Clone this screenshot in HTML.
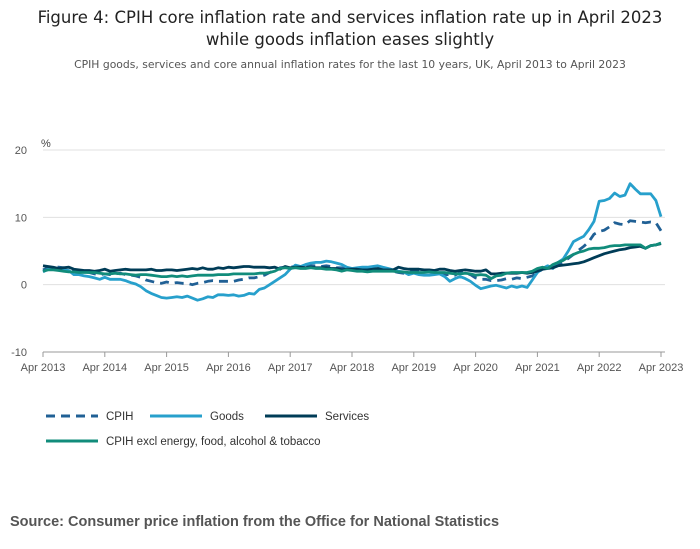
<!DOCTYPE html>
<html><head><meta charset="utf-8"><style>
body{margin:0;background:#fff;font-family:"Liberation Sans",sans-serif;}
#wrap{position:relative;width:700px;height:549px;overflow:hidden}
</style></head><body>
<div id="wrap">
<svg id="chart" width="700" height="549" xmlns="http://www.w3.org/2000/svg">
<text x="350" y="23" text-anchor="middle" font-size="16.5" fill="#222" font-family="DejaVu Sans, sans-serif">Figure 4: CPIH core inflation rate and services inflation rate up in April 2023</text>
<text x="350" y="45" text-anchor="middle" font-size="16.5" fill="#222" font-family="DejaVu Sans, sans-serif">while goods inflation eases slightly</text>
<text x="350" y="68" text-anchor="middle" font-size="10.8" fill="#555" font-family="DejaVu Sans, sans-serif">CPIH goods, services and core annual inflation rates for the last 10 years, UK, April 2013 to April 2023</text>
<text x="41" y="147" font-size="11" fill="#444">%</text>
<g id="grid"></g><g id="lines"></g><g id="xaxis"></g>
<g>
<g><line x1="46" y1="416" x2="98" y2="416" stroke="#206095" stroke-width="3" stroke-dasharray="9,6"/><text x="106" y="420" font-size="11.5" fill="#333">CPIH</text></g>
<g><line x1="150" y1="416" x2="202" y2="416" stroke="#27a0cc" stroke-width="3"/><text x="210" y="420" font-size="11.5" fill="#333">Goods</text></g>
<g><line x1="265" y1="416" x2="317" y2="416" stroke="#003c57" stroke-width="3"/><text x="325" y="420" font-size="11.5" fill="#333">Services</text></g>
<g><line x1="46" y1="441" x2="98" y2="441" stroke="#118c7b" stroke-width="3"/><text x="106" y="445" font-size="11.5" fill="#333">CPIH excl energy, food, alcohol &amp; tobacco</text></g>
</g>
<text x="10" y="526" font-size="14.5" font-weight="bold" fill="#555">Source: Consumer price inflation from the Office for National Statistics</text>
</svg>
</div>
<script>
const yTicks=[20,10,0,-10];
const xTickLabels=["Apr 2013","Apr 2014","Apr 2015","Apr 2016","Apr 2017","Apr 2018","Apr 2019","Apr 2020","Apr 2021","Apr 2022","Apr 2023"];
const cpih=[2.2,2.5,2.6,2.6,2.5,2.4,2.1,2.0,1.9,
1.8,1.6,1.5,1.6,1.5,1.6,1.7,1.5,1.4,1.3,1.1,0.7,
0.5,0.3,0.2,0.4,0.2,0.3,0.2,0.2,0.0,0.2,0.3,0.5,
0.6,0.5,0.5,0.5,0.5,0.7,0.8,1.0,1.0,1.2,1.4,1.8,
2.1,2.5,2.6,2.7,2.6,2.6,2.7,2.8,2.8,2.7,2.8,2.7,
2.5,2.5,2.3,2.2,2.3,2.3,2.3,2.4,2.2,2.2,2.2,2.0,
1.8,1.7,1.8,2.0,1.9,1.9,1.9,1.7,1.7,1.5,1.5,1.4,
1.8,1.7,1.5,1.0,0.8,0.8,0.6,0.6,0.7,0.9,0.8,1.0,
0.9,1.1,1.3,1.8,2.3,2.7,2.8,3.0,3.4,3.9,4.5,5.1,
5.7,6.4,7.5,7.9,8.1,8.6,9.2,9.0,8.9,9.5,9.4,9.3,
9.2,9.3,9.2,8.0];
const goods=[1.9,2.3,2.4,2.4,2.2,2.1,1.5,1.5,1.3,
1.2,1.0,0.8,1.1,0.8,0.8,0.8,0.6,0.3,0.1,-0.3,-0.9,
-1.3,-1.6,-1.9,-2.0,-1.9,-1.8,-1.9,-1.7,-2.0,-2.3,-2.1,-1.8,
-1.9,-1.5,-1.5,-1.6,-1.5,-1.7,-1.6,-1.3,-1.4,-0.7,-0.5,0.0,
0.5,1.0,1.5,2.3,2.9,2.7,3.0,3.2,3.3,3.3,3.5,3.4,
3.2,3.0,2.6,2.4,2.5,2.6,2.6,2.7,2.8,2.6,2.4,2.2,
2.0,1.9,1.5,1.7,1.5,1.4,1.4,1.5,1.6,1.2,0.5,0.9,
1.2,0.9,0.5,-0.1,-0.6,-0.4,-0.2,-0.1,-0.3,-0.5,-0.2,-0.4,
-0.2,-0.4,0.7,1.8,2.4,2.8,2.4,3.3,3.8,5.0,6.4,6.8,
7.2,8.2,9.4,12.4,12.5,12.8,13.6,13.1,13.3,15.0,14.2,13.5,
13.5,13.5,12.5,10.1];
const services=[2.8,2.7,2.6,2.4,2.5,2.6,2.3,2.2,2.1,
2.1,2.0,2.1,2.3,2.0,2.1,2.2,2.3,2.2,2.2,2.2,2.2,
2.3,2.1,2.1,2.2,2.2,2.1,2.2,2.3,2.4,2.3,2.5,2.3,
2.3,2.5,2.4,2.6,2.5,2.6,2.7,2.7,2.6,2.6,2.6,2.5,
2.6,2.3,2.7,2.5,2.6,2.6,2.5,2.6,2.5,2.5,2.5,2.4,
2.4,2.2,2.3,2.3,2.3,2.2,2.2,2.3,2.4,2.2,2.2,2.2,
2.6,2.4,2.3,2.3,2.3,2.2,2.2,2.1,2.3,2.3,2.1,2.0,
2.1,2.2,2.1,2.0,2.0,2.2,1.6,1.6,1.7,1.7,1.7,1.7,
1.8,1.7,1.8,2.0,2.3,2.4,2.5,2.8,2.9,3.0,3.1,3.2,
3.4,3.7,4.0,4.3,4.6,4.8,5.0,5.2,5.3,5.5,5.6,5.7,
5.4,5.8,5.9,6.1];
const core=[2.0,2.2,2.2,2.1,2.0,1.9,1.9,1.8,1.8,
1.8,1.8,1.7,1.6,1.6,1.7,1.6,1.6,1.5,1.4,1.5,1.5,
1.4,1.3,1.2,1.2,1.3,1.2,1.3,1.2,1.3,1.4,1.4,1.4,
1.4,1.5,1.5,1.5,1.6,1.6,1.6,1.6,1.6,1.7,1.7,1.8,
2.0,2.4,2.5,2.4,2.5,2.4,2.4,2.5,2.4,2.4,2.3,2.3,
2.2,2.0,2.2,2.1,2.0,2.0,1.9,2.0,2.0,2.0,2.0,2.0,
1.9,1.9,1.8,1.8,1.8,1.8,1.9,1.8,1.8,1.8,1.7,1.6,
1.6,1.7,1.6,1.4,1.5,1.4,0.9,1.3,1.4,1.7,1.8,1.8,
1.8,1.8,2.0,2.4,2.6,2.4,3.0,3.3,3.6,4.1,4.5,4.8,
5.0,5.3,5.4,5.4,5.5,5.7,5.8,5.8,5.9,5.9,5.9,5.9,
5.4,5.8,5.9,6.2];
const ns="http://www.w3.org/2000/svg";
const X0=43,X1=661,Y20=150,Ym10=352;
function xs(i){return X0+(X1-X0)*i/120;}
function ys(v){return Y20+(20-v)*(Ym10-Y20)/30;}
const grid=document.getElementById('grid');
yTicks.forEach(t=>{
 const l=document.createElementNS(ns,'line');
 
 
 l.setAttribute('x1',X0);l.setAttribute('x2',X1+4);l.setAttribute('y1',ys(t));l.setAttribute('y2',ys(t));
 l.setAttribute('stroke',t===-10?'#999':'#e0e0e0');l.setAttribute('stroke-width','1');
 grid.appendChild(l);
 const tx=document.createElementNS(ns,'text');
 
 
 tx.setAttribute('x',27);tx.setAttribute('y',ys(t)+4);tx.setAttribute('text-anchor','end');
 tx.setAttribute('font-size','11');tx.setAttribute('fill','#555');tx.textContent=t;
 grid.appendChild(tx);
});
const xa=document.getElementById('xaxis');
xTickLabels.forEach((lab,k)=>{
 const x=xs(k*12);
 const l=document.createElementNS(ns,'line');
 
 
 l.setAttribute('x1',x);l.setAttribute('x2',x);l.setAttribute('y1',Ym10);l.setAttribute('y2',Ym10+5);
 l.setAttribute('stroke','#999');xa.appendChild(l);
 const tx=document.createElementNS(ns,'text');
 
 
 tx.setAttribute('x',x);tx.setAttribute('y',371);tx.setAttribute('text-anchor','middle');
 tx.setAttribute('font-size','11');tx.setAttribute('fill','#555');tx.textContent=lab;
 xa.appendChild(tx);
});
const lines=document.getElementById('lines');
function draw(arr,color,name,dash){
 const p=document.createElementNS(ns,'path');
 
 
 p.setAttribute('d',arr.map((v,i)=>(i?'L':'M')+xs(i).toFixed(1)+','+ys(v).toFixed(1)).join(''));
 p.setAttribute('fill','none');p.setAttribute('stroke',color);p.setAttribute('stroke-width','2.8');
 p.setAttribute('stroke-linejoin','round');
 if(dash)p.setAttribute('stroke-dasharray',dash);
 lines.appendChild(p);
}
draw(cpih,'#206095','line-cpih','9,6');
draw(goods,'#27a0cc','line-goods');
draw(services,'#003c57','line-services');
draw(core,'#118c7b','line-core');
</script>
</body></html>
